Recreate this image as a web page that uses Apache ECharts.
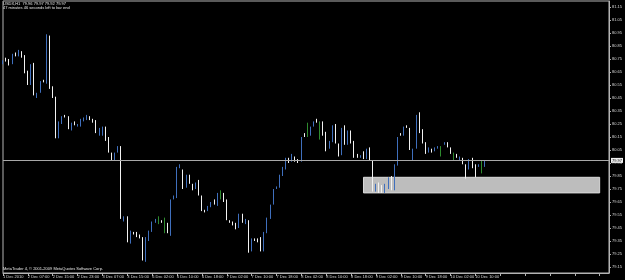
<!DOCTYPE html>
<html><head><meta charset="utf-8">
<script src="https://cdn.jsdelivr.net/npm/echarts@6/dist/echarts.min.js"></script>
<style>html,body{margin:0;padding:0;background:#000;}#c{width:625px;height:280px;}</style>
</head><body><div id="c"></div>
<script>
// ---- text ----
const symbolName = 'USDX,H1';
const headerQuote = '79.96 79.97 79.92 79.97';
const timerText = '47 minutes 46 seconds left to bar end';
const copyrightText = 'MetaTrader 4, \u00A9 2001-2009 MetaQuotes Software Corp.';

// ---- x axis (H1 bars, one label every 8 bars) ----
const barsOnAxis = 196;
const barsPerLabel = 8;
const xTickLabels = ['1 Dec 2010','2 Dec 07:00','2 Dec 15:00','2 Dec 23:00','3 Dec 07:00','3 Dec 15:00',
  '6 Dec 02:00','6 Dec 10:00','6 Dec 18:00','7 Dec 02:00','7 Dec 10:00','7 Dec 18:00','8 Dec 02:00',
  '8 Dec 10:00','8 Dec 18:00','9 Dec 02:00','9 Dec 10:00','9 Dec 18:00','10 Dec 02:00','10 Dec 10:00'];

// ---- y axis ----
const priceAxisMin = 79.104;
const priceAxisMax = 81.196;
const yTickValues = [79.15,79.25,79.35,79.45,79.55,79.65,79.75,79.85,79.95,80.05,80.15,80.25,80.35,80.45,80.55,80.65,80.75,80.85,80.95,81.05,81.15];

// ---- OHLC ----
const opens = [80.72,80.75,80.74,80.72,80.80,80.77,80.80,80.77,80.65,80.56,80.71,80.46,80.50,80.59,80.57,80.92,80.53,80.45,80.15,80.26,
80.31,80.30,80.20,80.26,80.24,80.24,80.28,80.28,80.31,80.29,80.28,80.17,80.18,80.22,80.14,80.02,79.98,80.04,80.07,79.51,
79.53,79.34,79.42,79.41,79.39,79.37,79.21,79.36,79.43,79.50,79.51,79.51,79.49,79.49,79.41,79.68,79.69,79.92,79.89,79.77,
79.86,79.79,79.76,79.81,79.69,79.59,79.58,79.61,79.66,79.62,79.72,79.72,79.66,79.50,79.49,79.48,79.46,79.55,79.48,79.50,
79.28,79.37,79.36,79.37,79.28,79.42,79.53,79.64,79.75,79.77,79.86,79.91,79.99,79.97,80.00,79.98,79.97,80.17,80.20,80.17,
80.23,80.29,80.26,80.26,80.18,80.07,80.11,80.25,80.09,80.02,80.23,80.10,80.19,80.11,80.01,79.99,80.03,79.99,80.07,79.96,
79.74,79.78,79.77,79.73,79.76,79.84,79.75,79.93,80.17,80.17,80.24,80.21,80.01,80.07,80.33,80.20,80.10,80.03,80.06,80.05,
80.06,80.06,80.09,80.10,80.07,80.02,80.01,79.98,79.99,79.94,79.91,79.98,79.94,79.92,79.93,79.96];
const closes = [80.74,80.73,80.71,80.78,80.78,80.81,80.77,80.65,80.56,80.70,80.48,80.49,80.57,80.58,80.93,80.53,80.46,80.15,80.26,80.30,
80.30,80.22,80.26,80.25,80.25,80.29,80.29,80.31,80.28,80.27,80.19,80.21,80.22,80.13,80.04,79.98,80.02,80.07,79.53,79.53,
79.35,79.42,79.40,79.38,79.38,79.21,79.37,79.42,79.50,79.51,79.50,79.49,79.48,79.42,79.66,79.70,79.92,79.93,79.76,79.85,
79.80,79.74,79.80,79.70,79.59,79.58,79.61,79.64,79.63,79.72,79.72,79.66,79.51,79.49,79.47,79.44,79.56,79.49,79.52,79.27,
79.36,79.35,79.34,79.28,79.42,79.53,79.63,79.75,79.77,79.85,79.92,79.98,79.96,80.02,79.96,79.96,80.15,80.15,80.21,80.23,
80.27,80.27,80.25,80.17,80.05,80.11,80.23,80.11,80.01,80.22,80.10,80.20,80.10,80.00,80.00,80.00,79.99,80.06,79.98,79.74,
79.78,79.73,79.73,79.78,79.83,79.75,79.93,80.15,80.16,80.23,80.22,80.06,80.06,80.32,80.19,80.11,80.03,80.07,80.04,80.06,
80.07,80.06,80.10,80.07,80.03,80.02,79.99,80.00,79.95,79.90,79.97,79.92,79.92,79.93,79.94,79.97];
const lows = [80.71,80.73,80.70,80.71,80.77,80.77,80.76,80.64,80.55,80.55,80.47,80.45,80.49,80.57,80.56,80.52,80.45,80.14,80.14,80.25,
80.30,80.21,80.20,80.24,80.23,80.23,80.27,80.28,80.28,80.26,80.18,80.16,80.16,80.12,80.03,79.97,79.97,80.03,79.52,79.50,
79.34,79.33,79.40,79.38,79.37,79.20,79.19,79.35,79.42,79.49,79.48,79.49,79.41,79.41,79.39,79.67,79.68,79.91,79.75,79.76,
79.79,79.74,79.75,79.70,79.58,79.57,79.58,79.61,79.63,79.62,79.67,79.65,79.51,79.49,79.47,79.44,79.45,79.49,79.48,79.26,
79.27,79.35,79.34,79.27,79.27,79.41,79.52,79.63,79.75,79.76,79.85,79.90,79.95,79.96,79.96,79.95,79.96,80.15,80.15,80.16,
80.23,80.26,80.13,80.16,80.04,80.06,80.11,80.10,80.00,80.01,80.09,80.09,80.10,79.99,79.99,79.99,79.98,79.98,79.97,79.73,
79.73,79.72,79.72,79.72,79.75,79.74,79.74,79.93,80.16,80.16,80.22,80.05,79.97,80.06,80.18,80.10,80.02,80.03,80.03,80.04,
80.06,80.00,80.09,80.07,80.02,79.97,79.99,79.97,79.94,79.83,79.90,79.91,79.84,79.92,79.87,79.92];
const highs = [80.74,80.76,80.75,80.79,80.80,80.82,80.81,80.78,80.66,80.71,80.72,80.49,80.58,80.59,80.94,80.93,80.54,80.46,80.27,80.31,
80.32,80.31,80.26,80.27,80.25,80.29,80.30,80.32,80.31,80.29,80.28,80.22,80.23,80.23,80.15,80.03,80.03,80.08,80.08,79.54,
79.54,79.43,79.42,79.42,79.40,79.38,79.38,79.43,79.50,79.52,79.54,79.51,79.53,79.49,79.67,79.70,79.92,79.94,79.90,79.86,
79.86,79.79,79.80,79.82,79.70,79.59,79.62,79.65,79.67,79.72,79.74,79.72,79.67,79.51,79.50,79.49,79.56,79.56,79.52,79.51,
79.37,79.37,79.37,79.38,79.42,79.53,79.63,79.75,79.77,79.86,79.92,79.99,79.99,80.02,80.00,79.98,80.15,80.18,80.26,80.23,
80.27,80.29,80.27,80.27,80.19,80.12,80.24,80.25,80.10,80.22,80.24,80.20,80.20,80.12,80.02,80.01,80.04,80.06,80.07,79.97,
79.79,79.80,79.78,79.79,79.84,79.85,79.94,80.15,80.18,80.23,80.24,80.22,80.06,80.32,80.34,80.21,80.11,80.07,80.06,80.07,
80.08,80.08,80.11,80.11,80.07,80.03,80.02,80.00,79.99,79.94,79.98,79.99,79.94,79.94,79.97,79.97];

// ---- drawn support zone (bar index range, price range) ----
const zoneStartBar = 116;
const zoneEndBar = 192;
const zoneLow = 79.72;
const zoneHigh = 79.84;

// ---- styles ----
const BULL = '#3f6fbd';
const BEAR = '#f2f2f2';
const DOJI = '#2e8b2e';
const AXIS = '#b4b4b4';
const TXT = '#d8d8d8';
const FONT = '"Liberation Sans", Arial, sans-serif';

const cats = Array.from({length: barsOnAxis}, (_, i) => String(i));
const candleData = opens.map((o, i) => {
  const item = {value: [o, closes[i], lows[i], highs[i]]};
  if (Math.abs(closes[i] - o) <= 0.0101 && highs[i] - lows[i] >= 0.0599) {
    item.itemStyle = {color: DOJI, color0: DOJI, borderColor: DOJI, borderColor0: DOJI};
  }
  return item;
});
const lastClose = closes[closes.length - 1];

const chart = echarts.init(document.getElementById('c'), null, {renderer: 'canvas'});
chart.setOption({
  backgroundColor: '#000',
  animation: false,
  grid: {left: 1, right: 15, top: 1, bottom: 7, show: true, borderColor: AXIS, borderWidth: 1, backgroundColor: '#000'},
  xAxis: {
    type: 'category', data: cats, boundaryGap: false,
    axisLine: {show: true, lineStyle: {color: AXIS, width: 1}},
    axisTick: {show: true, interval: barsPerLabel - 1, length: 3, lineStyle: {color: AXIS}},
    axisLabel: {
      interval: barsPerLabel - 1, align: 'left', margin: 2, fontSize: 4, fontFamily: FONT, color: TXT,
      formatter: (v, idx) => (idx % barsPerLabel === 0 && idx / barsPerLabel < xTickLabels.length) ? xTickLabels[idx / barsPerLabel] : ''
    },
    splitLine: {show: false}
  },
  yAxis: {
    type: 'value', position: 'right', min: priceAxisMin, max: priceAxisMax,
    axisLine: {show: true, lineStyle: {color: AXIS, width: 1}},
    axisTick: {show: true, length: 2, customValues: yTickValues, lineStyle: {color: AXIS}},
    axisLabel: {customValues: yTickValues, margin: 3, fontSize: 4, fontFamily: FONT, color: TXT, formatter: v => v.toFixed(2)},
    splitLine: {show: false}
  },
  graphic: [
    {type: 'text', left: 3, top: 2, silent: true, style: {text: symbolName + '  ' + headerQuote, fill: '#e6e6e6', font: '4px ' + FONT}},
    {type: 'text', left: 3, top: 6, silent: true, style: {text: timerText, fill: '#e6e6e6', font: '4px ' + FONT}},
    {type: 'text', left: 3, top: 267, silent: true, style: {text: copyrightText, fill: '#e6e6e6', font: '4px ' + FONT}}
  ],
  series: [
    {
      type: 'custom', z: 1, silent: true, clip: true,
      data: [[zoneStartBar, zoneEndBar, zoneLow, zoneHigh]],
      encode: {x: [0, 1], y: [2, 3]},
      renderItem: (params, api) => {
        const a = api.coord([api.value(0), api.value(3)]);
        const b = api.coord([api.value(1), api.value(2)]);
        return {type: 'rect', shape: {x: a[0], y: a[1], width: b[0] - a[0], height: b[1] - a[1]},
                style: {fill: '#bdbdbd', stroke: '#dadada', lineWidth: 1}};
      }
    },
    {
      type: 'candlestick', z: 3, barWidth: 1,
      data: candleData,
      itemStyle: {color: BULL, color0: BEAR, borderColor: BULL, borderColor0: BEAR, borderWidth: 1},
      markLine: {
        silent: true, symbol: ['none', 'none'], animation: false,
        lineStyle: {color: '#a8a8a8', width: 1, type: 'solid'},
        label: {position: 'end', distance: 2, formatter: lastClose.toFixed(2), color: '#000', backgroundColor: '#f0f0f0',
                fontSize: 4, fontFamily: FONT, padding: [1, 1, 0, 1]},
        data: [{yAxis: lastClose}]
      }
    }
  ]
});
</script>
</body></html>
